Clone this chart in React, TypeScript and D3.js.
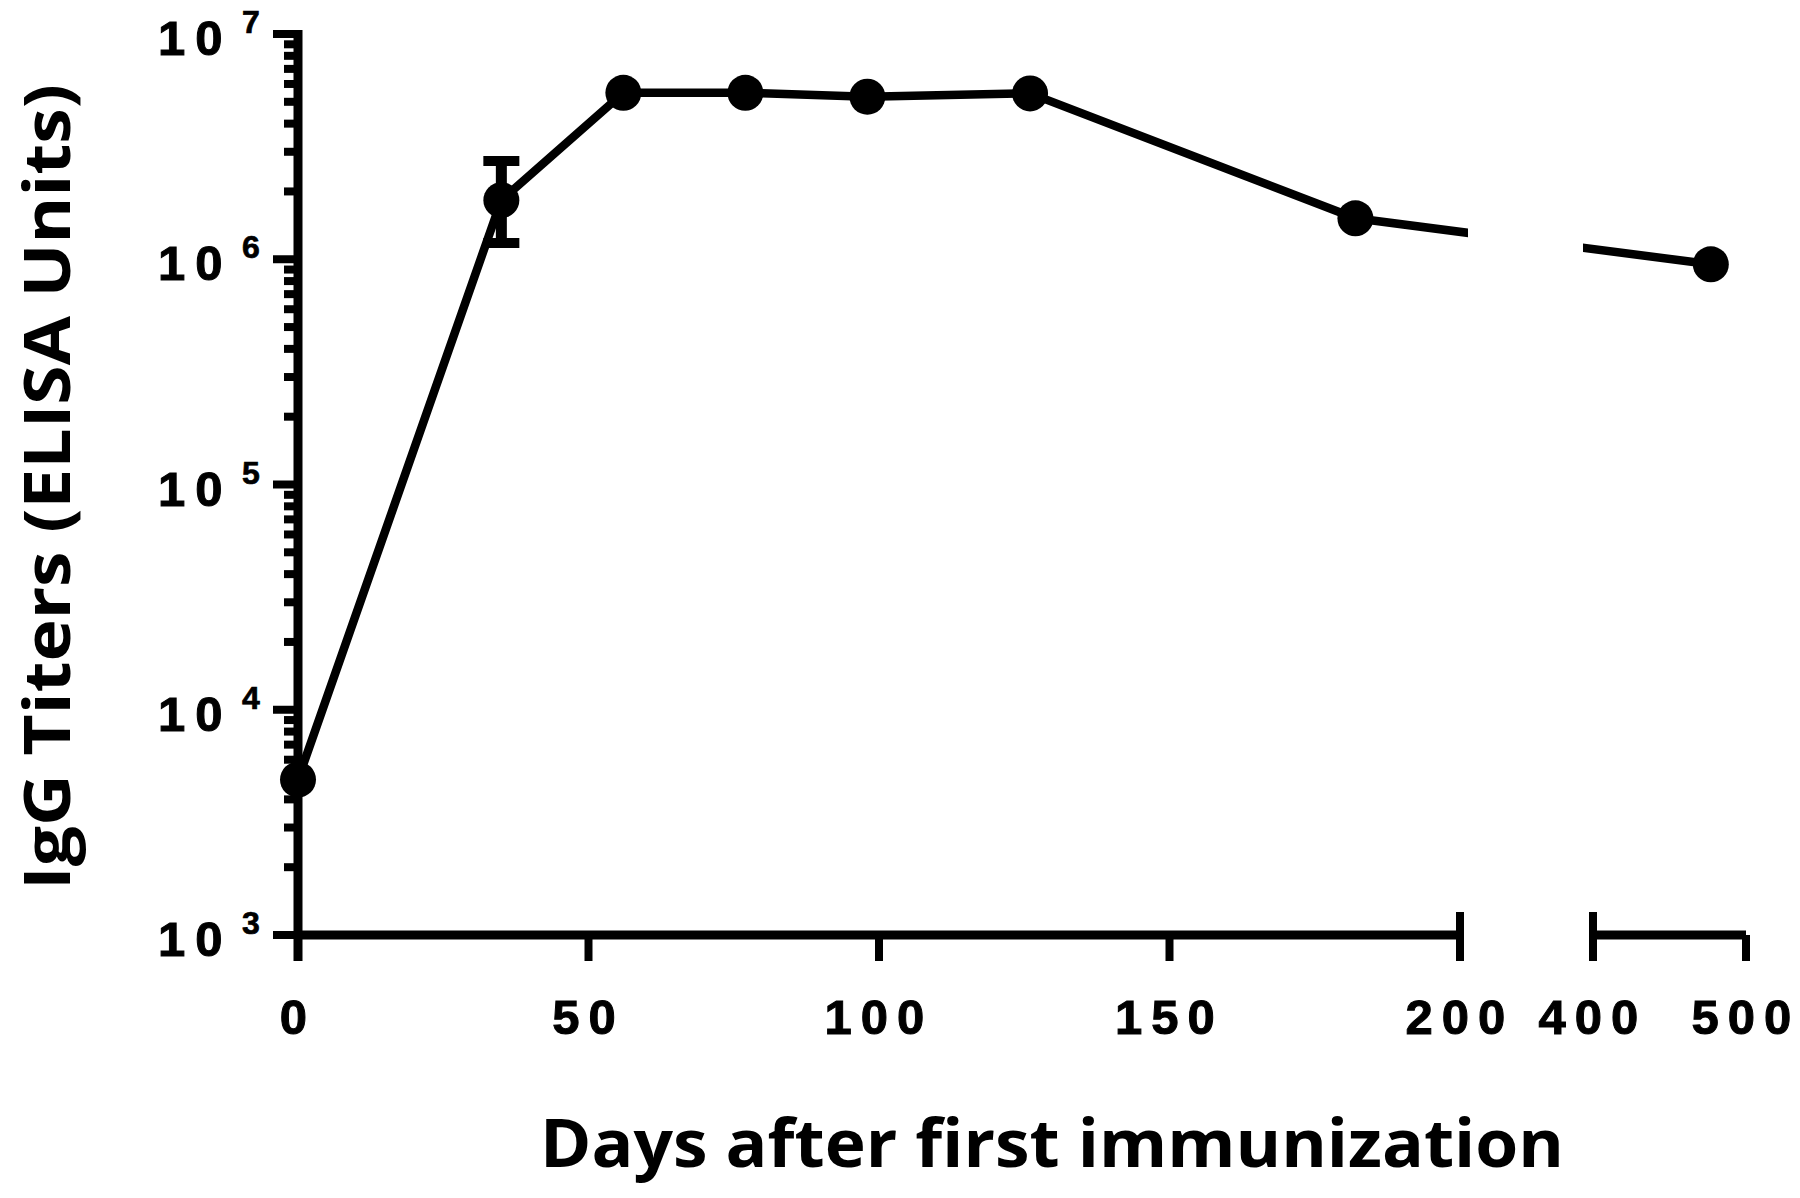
import React, { useRef, useEffect } from 'react';
import * as d3 from 'd3';

// Data
const days = [0, 35, 56, 77, 98, 126, 182, 477];
const titers = [4900, 1.83e6, 5.48e6, 5.48e6, 5.27e6, 5.45e6, 1.52e6, 9.5e5];
const errDay = [35];
const errLow = [1.18e6];
const errHigh = [2.73e6];

const xTicks = [0, 50, 100, 150, 200, 400, 500];
const xSegments = [[0, 200], [400, 500]];
const yExponents = [3, 4, 5, 6, 7];

const W = 1800;
const H = 1198;

const App = () => {
  const svgRef = useRef<SVGSVGElement>(null);

  useEffect(() => {
    d3.select(svgRef.current).selectAll('*').remove();

    const svg = d3.select(svgRef.current).attr('width', W).attr('height', H);

    // broken x axis: piecewise linear scale, gap between 200 and 400
    const x = d3.scaleLinear().domain([0, 200, 400, 500]).range([298, 1460, 1593, 1746]);
    const y = d3.scaleLog().domain([1e3, 1e7]).range([935, 34]);

    const sw = 8;
    const axisY = y(1e3);
    const axisX = x(0);
    const tickFont = '"Liberation Sans", Arial, sans-serif';

    // clip for the line so it breaks at the axis gap
    const defs = svg.append('defs');
    const clip = defs.append('clipPath').attr('id', 'seg-clip');
    clip.append('rect').attr('x', 0).attr('y', 0).attr('width', x(200) + 8).attr('height', H);
    clip
      .append('rect')
      .attr('x', x(400) - 10)
      .attr('y', 0)
      .attr('width', W - x(400) + 10)
      .attr('height', H);

    // Y axis line
    svg
      .append('line')
      .attr('x1', axisX)
      .attr('x2', axisX)
      .attr('y1', y(1e7) - sw / 2)
      .attr('y2', axisY + 26)
      .attr('stroke', '#000')
      .attr('stroke-width', sw + 1);

    // Y ticks (major + minor)
    const minor: number[] = [];
    for (let e = 3; e < 7; e++) {
      for (let m = 2; m <= 9; m++) minor.push(m * Math.pow(10, e));
    }
    svg
      .selectAll('.ymin')
      .data(minor)
      .enter()
      .append('line')
      .attr('x1', axisX - 14)
      .attr('x2', axisX)
      .attr('y1', d => y(d))
      .attr('y2', d => y(d))
      .attr('stroke', '#000')
      .attr('stroke-width', sw);

    svg
      .selectAll('.ymaj')
      .data(yExponents)
      .enter()
      .append('line')
      .attr('x1', axisX - 25)
      .attr('x2', axisX)
      .attr('y1', d => y(Math.pow(10, d)))
      .attr('y2', d => y(Math.pow(10, d)))
      .attr('stroke', '#000')
      .attr('stroke-width', sw);

    // Y tick labels: 10 with superscript exponent
    const yLab = svg.selectAll('.ylab').data(yExponents).enter().append('g');
    yLab
      .append('text')
      .attr('x', 158)
      .attr('y', d => y(Math.pow(10, d)) + 21)
      .attr('font-family', tickFont)
      .attr('font-weight', 'bold')
      .attr('font-size', 49)
      .attr('letter-spacing', 10)
      .attr('stroke', '#000')
      .attr('stroke-width', 1)
      .text('10');
    yLab
      .append('text')
      .attr('x', 242)
      .attr('y', d => y(Math.pow(10, d)) - 1)
      .attr('font-family', tickFont)
      .attr('font-weight', 'bold')
      .attr('font-size', 32)
      .attr('stroke', '#000')
      .attr('stroke-width', 0.7)
      .text(d => d);

    // X axis segments
    svg
      .selectAll('.xseg')
      .data(xSegments)
      .enter()
      .append('line')
      .attr('x1', d => x(d[0]))
      .attr('x2', d => x(d[1]))
      .attr('y1', axisY)
      .attr('y2', axisY)
      .attr('stroke', '#000')
      .attr('stroke-width', sw + 1);

    // X ticks
    svg
      .selectAll('.xtick')
      .data(xTicks)
      .enter()
      .append('line')
      .attr('x1', d => x(d))
      .attr('x2', d => x(d))
      .attr('y1', axisY)
      .attr('y2', axisY + 26)
      .attr('stroke', '#000')
      .attr('stroke-width', sw);

    // break caps (up-going ends at 200 and 400)
    svg
      .selectAll('.xbreak')
      .data([200, 400])
      .enter()
      .append('line')
      .attr('x1', d => x(d))
      .attr('x2', d => x(d))
      .attr('y1', axisY - 23)
      .attr('y2', axisY)
      .attr('stroke', '#000')
      .attr('stroke-width', sw);

    // X tick labels
    svg
      .selectAll('.xlab')
      .data(xTicks)
      .enter()
      .append('text')
      .attr('x', d => x(d))
      .attr('y', 1034)
      .attr('text-anchor', 'middle')
      .attr('font-family', tickFont)
      .attr('font-weight', 'bold')
      .attr('font-size', 49)
      .attr('letter-spacing', 9)
      .attr('stroke', '#000')
      .attr('stroke-width', 1)
      .text(d => d);

    // Data line
    const line = d3
      .line<number>()
      .x((d, i) => x(days[i]))
      .y(d => y(d));

    svg
      .append('path')
      .datum(titers)
      .attr('d', line)
      .attr('fill', 'none')
      .attr('stroke', '#000')
      .attr('stroke-width', sw + 0.5)
      .attr('stroke-linejoin', 'round')
      .attr('clip-path', 'url(#seg-clip)');

    // Error bar
    const eb = svg.selectAll('.err').data(errDay).enter().append('g');
    eb.append('line')
      .attr('x1', d => x(d))
      .attr('x2', d => x(d))
      .attr('y1', (d, i) => y(errHigh[i]))
      .attr('y2', (d, i) => y(errLow[i]))
      .attr('stroke', '#000')
      .attr('stroke-width', 11);
    eb.append('line')
      .attr('x1', d => x(d) - 18)
      .attr('x2', d => x(d) + 18)
      .attr('y1', (d, i) => y(errHigh[i]))
      .attr('y2', (d, i) => y(errHigh[i]))
      .attr('stroke', '#000')
      .attr('stroke-width', 10);
    eb.append('line')
      .attr('x1', d => x(d) - 18)
      .attr('x2', d => x(d) + 18)
      .attr('y1', (d, i) => y(errLow[i]))
      .attr('y2', (d, i) => y(errLow[i]))
      .attr('stroke', '#000')
      .attr('stroke-width', 10);

    // Points
    svg
      .selectAll('.pt')
      .data(titers)
      .enter()
      .append('circle')
      .attr('cx', (d, i) => x(days[i]))
      .attr('cy', d => y(d))
      .attr('r', 18)
      .attr('fill', '#000');

    // Axis titles
    const titleFont = '"Open Sans", "Noto Sans", sans-serif';
    svg
      .append('text')
      .attr('x', 1052)
      .attr('y', 1167)
      .attr('text-anchor', 'middle')
      .attr('font-family', titleFont)
      .attr('font-weight', 'bold')
      .attr('font-size', 66)
      .attr('textLength', 1024)
      .attr('lengthAdjust', 'spacingAndGlyphs')
      .text('Days after first immunization');

    svg
      .append('text')
      .attr('transform', `translate(70, 487) rotate(-90)`)
      .attr('text-anchor', 'middle')
      .attr('font-family', titleFont)
      .attr('font-weight', 'bold')
      .attr('font-size', 64)
      .attr('textLength', 806)
      .attr('lengthAdjust', 'spacingAndGlyphs')
      .text('IgG Titers (ELISA Units)');
  }, []);

  return (
    <svg
      ref={svgRef}
      style={{ position: 'absolute', left: 0, top: 0, background: '#fff' }}
    ></svg>
  );
};

export default App;
